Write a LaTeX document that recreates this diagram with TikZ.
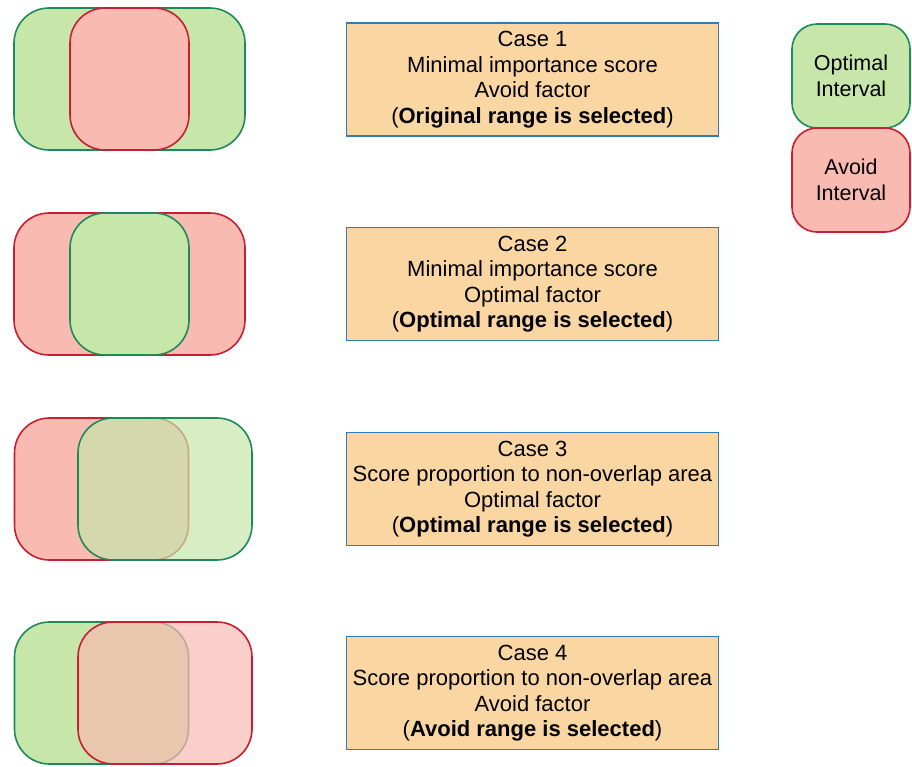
\documentclass[tikz,border=0pt]{standalone}
\usepackage{fontspec}
\setmainfont{Liberation Sans}
\definecolor{optfill}{RGB}{198,230,170}
\definecolor{optline}{RGB}{30,138,92}
\definecolor{avdfill}{RGB}{249,186,178}
\definecolor{avdline}{RGB}{200,30,50}
\definecolor{casefill}{RGB}{250,214,162}
\definecolor{caseline}{RGB}{45,125,190}
\tikzset{
  interval/.style={rectangle, inner sep=0pt, line width=1.6pt, rounded corners=35pt},
  optint/.style={interval, draw=optline, fill=optfill},
  avdint/.style={interval, draw=avdline, fill=avdfill},
  wide/.style={minimum width=231pt, minimum height=142pt},
  narrow/.style={minimum width=119pt, minimum height=142pt},
  shifted/.style={minimum width=174pt, minimum height=142pt},
  seethru/.style={fill opacity=0.7, text opacity=1},
  casebox/.style={rectangle, draw=caseline, fill=casefill, line width=1.7pt,
    minimum width=372pt, minimum height=113pt, align=center, inner sep=0pt,
    font=\fontsize{22}{25.5}\selectfont},
  legend/.style={interval, rounded corners=25pt, minimum width=118pt, minimum height=104pt,
    align=center, font=\fontsize{21.5}{25.5}\selectfont},
}
\begin{document}
\begin{tikzpicture}[x=1pt, y=-1pt]
\useasboundingbox (0,0) rectangle (912,766);

% Case 1: avoid interval inside optimal interval
\node[optint, wide]   (c1out) at (129.5,79) {};
\node[avdint, narrow] (c1in)  at (129.5,79) {};

% Case 2: optimal interval inside avoid interval
\node[avdint, wide]   (c2out) at (129.5,284) {};
\node[optint, narrow] (c2in)  at (129.5,284) {};

% Case 3: partial overlap, optimal on top
\node[avdint, shifted]          (c3avd) at (101.5,489) {};
\node[optint, shifted, seethru] (c3opt) at (165,489) {};

% Case 4: partial overlap, avoid on top
\node[optint, shifted]          (c4opt) at (101.5,693) {};
\node[avdint, shifted, seethru] (c4avd) at (165,693) {};

% Case descriptions
\node[casebox] (t1) at (532.5,79.5)
  {Case 1\\Minimal importance score\\Avoid factor\\(\textbf{Original range is selected})};
\node[casebox] (t2) at (532.5,284)
  {Case 2\\Minimal importance score\\Optimal factor\\(\textbf{Optimal range is selected})};
\node[casebox] (t3) at (532.5,489)
  {Case 3\\Score proportion to non-overlap area\\Optimal factor\\(\textbf{Optimal range is selected})};
\node[casebox] (t4) at (532.5,693)
  {Case 4\\Score proportion to non-overlap area\\Avoid factor\\(\textbf{Avoid range is selected})};

% Legend
\node[legend, draw=optline, fill=optfill] (lopt) at (851,76) {Optimal\\Interval};
\node[legend, draw=avdline, fill=avdfill] (lavd) at (851,180) {Avoid\\Interval};
\end{tikzpicture}
\end{document}
